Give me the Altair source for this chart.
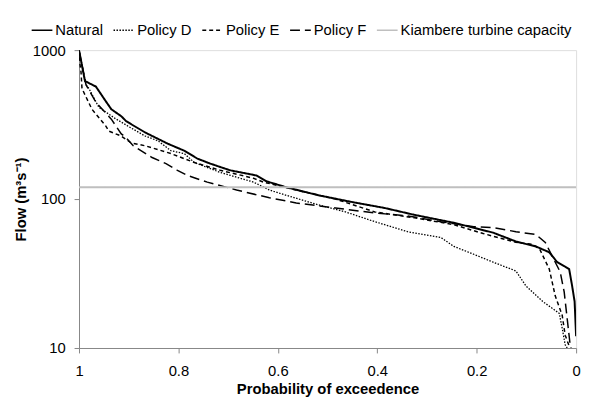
import altair as alt
import pandas as pd

series_names = ["Natural", "Policy D", "Policy E", "Policy F", "Kiambere turbine capacity"]

nat_p = [1.0, 0.988, 0.966, 0.946, 0.935, 0.915, 0.905, 0.867, 0.821, 0.788, 0.762, 0.736, 0.696, 0.643,
         0.623, 0.583, 0.518, 0.450, 0.385, 0.325, 0.246, 0.167, 0.121, 0.081, 0.054, 0.038, 0.024, 0.014,
         0.008, 0.003, 0.0]
nat_v = [1000, 620, 569, 453, 401, 360, 333, 280, 235, 211, 187, 173, 156, 144,
         131.6, 120, 106, 95.4, 87.1, 78.3, 69.3, 59.5, 51.9, 48.1, 43.9, 37.7, 35.5, 33.9,
         26.1, 20.5, 12]

d_p = [1.0, 0.986, 0.980, 0.960, 0.927, 0.895, 0.867, 0.841, 0.815, 0.788, 0.768, 0.716, 0.649, 0.617,
       0.583, 0.524, 0.464, 0.405, 0.339, 0.272, 0.246, 0.206, 0.167, 0.121, 0.101, 0.067, 0.034,
       0.028, 0.022, 0.018]
d_v = [1000, 586, 552, 413, 347, 300, 265, 246, 211, 202, 176, 151, 130, 115,
       106, 92.6, 82, 70.5, 60.4, 55.2, 48.1, 42.6, 37.7, 32.9, 26.1, 20.5, 17.1,
       13.6, 10.5, 10]

e_p = [1.0, 0.996, 0.994, 0.974, 0.946, 0.940, 0.915, 0.895, 0.867, 0.815, 0.768, 0.716, 0.649, 0.629,
       0.563, 0.484, 0.405, 0.325, 0.246, 0.187, 0.121, 0.087, 0.073, 0.054, 0.042, 0.028, 0.022,
       0.014, 0.012]
e_v = [900, 715, 552, 401, 309, 286, 265, 238, 228, 202, 176, 156, 138, 130,
       115, 100, 82, 74.8, 67.3, 58.7, 51.2, 49.6, 45.9, 33.9, 22.4, 16.6, 12.2,
       10.3, 10]

f_p = [1.0, 0.986, 0.966, 0.935, 0.915, 0.905, 0.891, 0.853, 0.825, 0.802, 0.782, 0.742, 0.683, 0.617,
       0.563, 0.484, 0.405, 0.339, 0.272, 0.206, 0.167, 0.121, 0.081, 0.062, 0.052, 0.032, 0.024,
       0.018, 0.012, 0.010]
f_v = [1000, 586, 446, 344, 274, 258, 228, 190, 173, 156, 144, 130, 115, 102,
       94.2, 87.1, 80.7, 77.1, 70.5, 65.3, 64.3, 60.4, 57.8, 51.2, 43.9, 32.4, 23.8,
       15.8, 10.5, 10]

k_p = [1.0, 0.0]
k_v = [120, 120]

colors = ["#000000", "#000000", "#000000", "#000000", "#bfbfbf"]
dashes = [[1, 0], [1.5, 1.5], [4, 3], [10, 5], [1, 0]]
widths = [2.0, 1.3, 1.5, 1.5, 2.0]

rows = []
for name, ps, vs, w in zip(series_names, [nat_p, d_p, e_p, f_p, k_p], [nat_v, d_v, e_v, f_v, k_v], widths):
    for p, v in zip(ps, vs):
        rows.append({"series": name, "p": p, "flow": v, "w": w})
df = pd.DataFrame(rows)

FONT = "Liberation Sans"
FS = 15

leg = alt.Legend(
    orient="none", legendX=-49, legendY=-32, direction="horizontal", columns=5,
    title=None, symbolType="stroke", symbolSize=441, symbolStrokeWidth=1.6,
    labelFont=FONT, labelFontSize=FS, labelColor="#000000", labelOffset=2,
    labelLimit=400, columnPadding=6, padding=0,
)

chart = alt.Chart(df).mark_line(clip=True).encode(
    x=alt.X("p:Q",
            scale=alt.Scale(domain=[0, 1], reverse=True, nice=False, zero=False),
            axis=alt.Axis(values=[0, 0.2, 0.4, 0.6, 0.8, 1], format=".1~f",
                          title="Probability of exceedence", grid=False,
                          domainColor="#868686", tickColor="#868686", tickSize=5,
                          labelFont=FONT, labelFontSize=FS, labelColor="#000000", labelPadding=11,
                          labelFlush=False,
                          titleFont=FONT, titleFontSize=FS, titleFontWeight="bold", titleColor="#000000",
                          titleBaseline="middle", titleY=41)),
    y=alt.Y("flow:Q",
            scale=alt.Scale(type="log", domain=[10, 1000], nice=False),
            axis=alt.Axis(values=[10, 100, 1000], format="d", grid=False,
                          title="Flow (m³s⁻¹)",
                          domainColor="#868686", tickColor="#868686", tickSize=5,
                          labelFont=FONT, labelFontSize=FS, labelColor="#000000", labelPadding=9,
                          titleFont=FONT, titleFontSize=FS, titleFontWeight="bold", titleColor="#000000",
                          titleAngle=-90, titleAlign="center", titleBaseline="middle",
                          titleX=-59, titleY=151)),
    color=alt.Color("series:N", scale=alt.Scale(domain=series_names, range=colors), legend=leg),
    strokeDash=alt.StrokeDash("series:N", scale=alt.Scale(domain=series_names, range=dashes), legend=leg),
    strokeWidth=alt.StrokeWidth("w:Q", scale=None, legend=None),
    detail="series:N",
).properties(
    width=504, height=302,
    autosize="none",
    padding={"left": 72, "top": 40, "right": 8, "bottom": 50},
).configure_view(stroke=None).configure(background="#ffffff")

chart.save("out.html", embed_options={"renderer": "svg", "actions": False})
